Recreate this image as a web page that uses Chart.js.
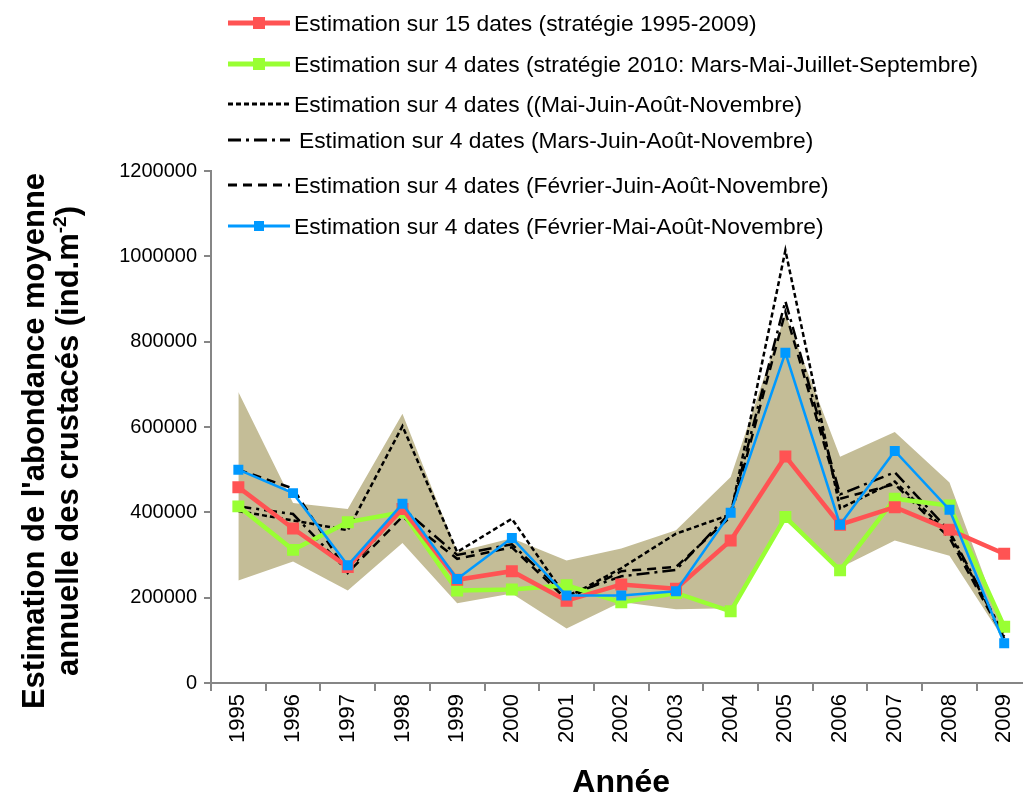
<!DOCTYPE html>
<html>
<head>
<meta charset="utf-8">
<script src="https://cdn.jsdelivr.net/npm/chart.js@4.4.0/dist/chart.umd.min.js"></script>
<style>
  body { margin: 0; overflow: hidden; background: #fff; width: 1023px; height: 799px; }
  #cadre { position: absolute; left: 0; top: 0; width: 1040px; height: 799px; }
  #legende { position: absolute; left: 0; top: 0; font-family: "Liberation Sans", Arial, sans-serif; font-size: 22.8px; color: #000; }
  .item { position: absolute; left: 226px; display: flex; align-items: center; white-space: nowrap; height: 30px; }
  .item svg { margin-right: 2px; }
  #titreY { position: absolute; left: -229px; top: 407px; width: 560px; height: 68px; transform: rotate(-90deg);
            font-family: "Liberation Sans", Arial, sans-serif; font-weight: bold; font-size: 31px; line-height: 34px;
            text-align: center; color: #000; white-space: nowrap; }
  #titreY sup { font-size: 19px; line-height: 0; vertical-align: 12px; }
</style>
</head>
<body>
<div id="cadre"><canvas id="graphe" width="1040" height="799"></canvas></div>
<div id="titreY">Estimation de l'abondance moyenne<br>annuelle des crustacés (ind.m<sup>-2</sup>)</div>
<div id="legende"></div>
<script>
// années (axe des x)
const annees = ['1995', '1996', '1997', '1998', '1999', '2000', '2001', '2002', '2003', '2004', '2005', '2006', '2007', '2008', '2009'];

// noms des séries (légende)
const nomsSeries = [
  'Estimation sur 15 dates (stratégie 1995-2009)',
  'Estimation sur 4 dates (stratégie 2010: Mars-Mai-Juillet-Septembre)',
  'Estimation sur 4 dates ((Mai-Juin-Août-Novembre)',
  'Estimation sur 4 dates (Mars-Juin-Août-Novembre)',
  'Estimation sur 4 dates (Février-Juin-Août-Novembre)',
  'Estimation sur 4 dates (Février-Mai-Août-Novembre)'
];

// valeurs (ind.m-2)
const est15dates   = [459000, 362000, 272000, 408000, 242000, 262000, 193000, 231000, 221000, 334000, 531000, 371000, 412000, 359000, 303000];
const est2010      = [414000, 312000, 377000, 400000, 217000, 219000, 229000, 189000, 211000, 168000, 389000, 264000, 432000, 416000, 132000];
const estMaiJuin   = [403000, 381000, 358000, 602000, 307000, 385000, 200000, 269000, 350000, 395000, 1014000, 409000, 472000, 350000, 110000];
const estMarsJuin  = [414000, 396000, 262000, 410000, 300000, 325000, 205000, 250000, 265000, 400000, 895000, 442000, 494000, 356000, 112000];
const estFevJuin   = [500000, 456000, 258000, 390000, 291000, 318000, 196000, 262000, 272000, 390000, 870000, 432000, 466000, 340000, 105000];
const estFevMai    = [500000, 445000, 276000, 420000, 244000, 340000, 205000, 205000, 215000, 399000, 774000, 371000, 544000, 406000, 93000];

// enveloppe (zone beige)
const enveloppeHaute = [682000, 422000, 408000, 631000, 307000, 339000, 287000, 315000, 358000, 483000, 865000, 530000, 588000, 470000, 123000];
const enveloppeBasse = [240000, 285000, 217000, 328000, 187000, 210000, 128000, 190000, 173000, 175000, 380000, 270000, 334000, 298000, 100000];

// ticks de l'axe y
const ticksY = [0, 200000, 400000, 600000, 800000, 1000000, 1200000];

const police = '"Liberation Sans", Arial, sans-serif';
const gris = '#868686';
const beige = '#c4bd97';

// styles des 6 séries, dans l'ordre de la légende
const styles = [
  { couleur: '#ff5353', epaisseur: 4.5, tirets: [], marqueur: 6, ordre: 2 },
  { couleur: '#99ff33', epaisseur: 4.5, tirets: [], marqueur: 6, ordre: 3 },
  { couleur: '#000000', epaisseur: 2.5, tirets: [5, 3], marqueur: 0, ordre: 4 },
  { couleur: '#000000', epaisseur: 2.5, tirets: [13, 5, 3, 5], marqueur: 0, ordre: 5 },
  { couleur: '#000000', epaisseur: 2.5, tirets: [9, 6], marqueur: 0, ordre: 6 },
  { couleur: '#0099ff', epaisseur: 2.5, tirets: [], marqueur: 5, ordre: 1 }
];
const valeurs = [est15dates, est2010, estMaiJuin, estMarsJuin, estFevJuin, estFevMai];

let datasets = [
  {
    label: 'enveloppe basse',
    data: enveloppeBasse,
    borderWidth: 0,
    pointRadius: 0,
    fill: false,
    order: 8
  },
  {
    label: 'enveloppe haute',
    data: enveloppeHaute,
    borderWidth: 0,
    pointRadius: 0,
    backgroundColor: beige,
    fill: { target: 0 },
    order: 7
  }
];

styles.forEach((s, i) => {
  datasets.push({
    label: nomsSeries[i],
    data: valeurs[i],
    borderColor: s.couleur,
    backgroundColor: s.couleur,
    borderWidth: s.epaisseur,
    borderDash: s.tirets,
    pointStyle: 'rect',
    pointRadius: s.marqueur * 1.41,
    pointBorderWidth: 0,
    fill: false,
    tension: 0,
    order: s.ordre
  });
});

new Chart(document.getElementById('graphe'), {
  type: 'line',
  data: { labels: annees, datasets: datasets },
  options: {
    responsive: false,
    animation: false,
    layout: { padding: { top: 171, right: 6, left: 0, bottom: 0 } },
    plugins: { legend: { display: false }, tooltip: { enabled: false } },
    scales: {
      x: {
        offset: true,
        grid: { offset: true, drawOnChartArea: false, tickLength: 8, color: gris, lineWidth: 2 },
        border: { color: gris, width: 2 },
        ticks: { minRotation: 90, maxRotation: 90, autoSkip: false, color: '#000', padding: 3, font: { family: police, size: 22 } },
        title: { display: true, text: 'Année', color: '#000', padding: { top: 0, bottom: 0 }, font: { family: police, size: 32, weight: 'bold', lineHeight: 1 } },
        afterFit: (sc) => { sc.height = 116; }
      },
      y: {
        min: 0,
        max: 1200000,
        afterBuildTicks: (sc) => { sc.ticks = ticksY.map(v => ({ value: v })); },
        grid: { drawOnChartArea: false, tickLength: 7, color: gris, lineWidth: 2 },
        border: { color: gris, width: 2 },
        ticks: { color: '#000', padding: 7, font: { family: police, size: 20 }, callback: (v) => String(v) },
        afterFit: (sc) => { sc.width = 211; }
      }
    }
  }
});

// légende en HTML, placée en haut comme dans l'original
const hauteurs = [23, 64, 104, 140, 185, 226];
const legende = document.getElementById('legende');
styles.forEach((s, i) => {
  let div = document.createElement('div');
  div.className = 'item';
  div.style.top = (hauteurs[i] - 15) + 'px';
  let trait = '<line x1="2" y1="10" x2="64" y2="10" stroke="' + s.couleur + '" stroke-width="' + (s.epaisseur + 0.5) +
    '" stroke-dasharray="' + (s.tirets.length ? s.tirets.join(' ') : 'none') + '"/>';
  let marque = s.marqueur ? '<rect x="' + (33 - s.marqueur) + '" y="' + (10 - s.marqueur) + '" width="' + (2 * s.marqueur) +
    '" height="' + (2 * s.marqueur) + '" fill="' + s.couleur + '"/>' : '';
  div.innerHTML = '<svg width="66" height="20">' + trait + marque + '</svg><span>' + nomsSeries[i] + '</span>';
  if (i == 3) div.querySelector('span').style.marginLeft = '5px';
  legende.appendChild(div);
});
</script>
</body>
</html>
